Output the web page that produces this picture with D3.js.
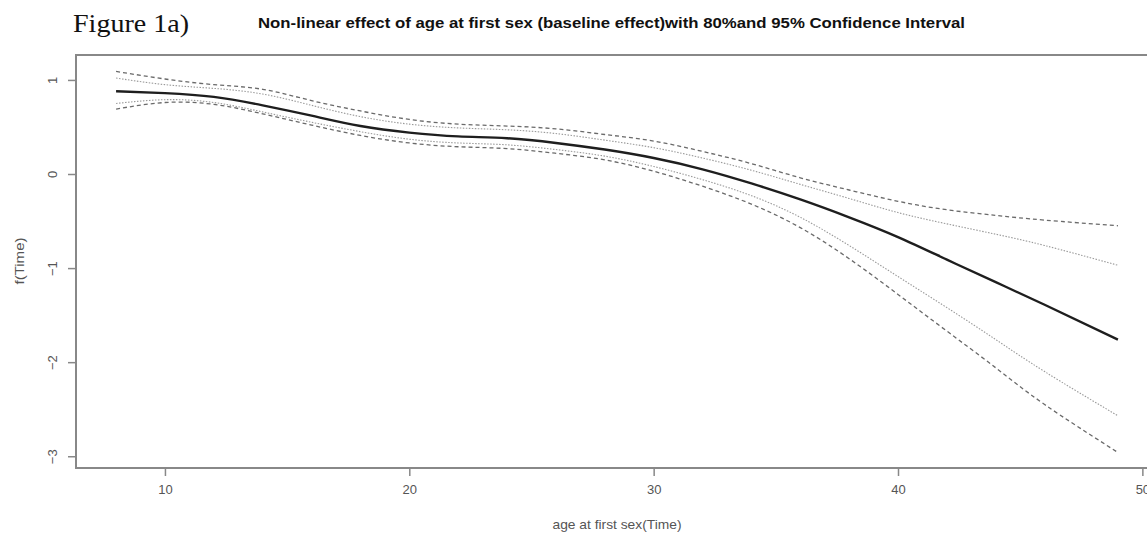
<!DOCTYPE html>
<html>
<head>
<meta charset="utf-8">
<script src="https://cdn.jsdelivr.net/npm/d3@7"></script>
<style>
  body { margin: 0; background: #fff; }
  svg text { font-family: 'Liberation Sans', Arial, sans-serif; }
</style>
</head>
<body>
<svg id="chart" width="1147" height="535"></svg>
<script>
// age at first sex
var ages = [ 8, 10, 12, 14, 16, 18, 20, 22, 24, 26, 28, 30, 32, 34, 36, 38, 40, 42, 44, 46, 49 ];

var estimate = [ 0.88, 0.86, 0.82, 0.73, 0.62, 0.51, 0.44, 0.40, 0.38, 0.33, 0.26, 0.17, 0.05, -0.10, -0.27, -0.46, -0.67, -0.91, -1.15, -1.39, -1.76 ];
var upper95 = [ 1.09, 1.01, 0.95, 0.90, 0.78, 0.67, 0.58, 0.53, 0.51, 0.48, 0.42, 0.35, 0.24, 0.11, -0.04, -0.17, -0.29, -0.38, -0.44, -0.49, -0.55 ];
var upper80 = [ 1.02, 0.95, 0.91, 0.85, 0.73, 0.61, 0.53, 0.49, 0.47, 0.43, 0.36, 0.28, 0.17, 0.04, -0.11, -0.26, -0.41, -0.53, -0.64, -0.76, -0.97 ];
var lower80 = [ 0.75, 0.79, 0.76, 0.66, 0.55, 0.45, 0.37, 0.33, 0.31, 0.26, 0.19, 0.08, -0.06, -0.23, -0.46, -0.76, -1.09, -1.42, -1.76, -2.10, -2.57 ];
var lower95 = [ 0.69, 0.76, 0.74, 0.64, 0.52, 0.41, 0.33, 0.29, 0.27, 0.22, 0.15, 0.03, -0.13, -0.32, -0.57, -0.90, -1.28, -1.67, -2.06, -2.45, -2.96 ];

var xTicks = [ 10, 20, 30, 40, 50 ];
var yTicks = [ -3, -2, -1, 0, 1 ];

var svg = d3.select( '#chart' ),
  box = { left: 76, top: 55, right: 1158, bottom: 468 };

var x = d3.scaleLinear()
  .domain( [ 6.36, 50.64 ] )
  .range( [ box.left, box.right ] );

var y = d3.scaleLinear()
  .domain( [ -3.125, 1.265 ] )
  .range( [ box.bottom, box.top ] );

var line = d3.line()
  .curve( d3.curveNatural )
  .x( d => x( d[ 0 ] ) )
  .y( d => y( d[ 1 ] ) );

var series = [
  { values: upper95, stroke: '#6a6a6a', width: 1.3, dash: '4,3' },
  { values: lower95, stroke: '#6a6a6a', width: 1.3, dash: '4,3' },
  { values: upper80, stroke: '#9a9a9a', width: 1.1, dash: '1.5,1.5' },
  { values: lower80, stroke: '#9a9a9a', width: 1.1, dash: '1.5,1.5' },
  { values: estimate, stroke: '#1e1e1e', width: 2.4, dash: null }
];

svg.selectAll( '.curve' )
  .data( series )
  .enter().append( 'path' )
    .attr( 'class', 'curve' )
    .attr( 'fill', 'none' )
    .attr( 'stroke', d => d.stroke )
    .attr( 'stroke-width', d => d.width )
    .attr( 'stroke-dasharray', d => d.dash )
    .attr( 'd', d => line( ages.map( ( a, i ) => [ a, d.values[ i ] ] ) ) );

/* Box */

svg.append( 'rect' )
  .attr( 'x', box.left )
  .attr( 'y', box.top )
  .attr( 'width', box.right - box.left )
  .attr( 'height', box.bottom - box.top )
  .attr( 'fill', 'none' )
  .attr( 'stroke', '#888' )
  .attr( 'stroke-width', 2 );

/* Axes */

var xAxis = svg.append( 'g' )
  .attr( 'transform', 'translate(0,' + box.bottom + ')' )
  .call( d3.axisBottom( x ).tickValues( xTicks ).tickSize( 8 ).tickPadding( 9 ) );

var yAxis = svg.append( 'g' )
  .attr( 'transform', 'translate(' + box.left + ',0)' )
  .call( d3.axisLeft( y ).tickValues( yTicks ).tickSize( 8 ).tickFormat( d3.format( 'd' ) ) );

[ xAxis, yAxis ].forEach( g => {
  g.select( '.domain' ).remove();
  g.selectAll( '.tick line' ).attr( 'stroke', '#888' ).attr( 'stroke-width', 1.5 );
  g.selectAll( '.tick text' ).attr( 'fill', '#555' ).style( 'font-size', '13px' );
} );

yAxis.selectAll( '.tick text' )
  .attr( 'transform', 'rotate(-90)' )
  .attr( 'x', 0 )
  .attr( 'y', -24 )
  .attr( 'dy', '0.35em' )
  .attr( 'text-anchor', 'middle' );

/* Labels */

svg.append( 'text' )
  .attr( 'x', 617 )
  .attr( 'y', 529 )
  .attr( 'text-anchor', 'middle' )
  .attr( 'fill', '#555' )
  .style( 'font-size', '13px' )
  .attr( 'textLength', 129 )
  .attr( 'lengthAdjust', 'spacingAndGlyphs' )
  .text( 'age at first sex(Time)' );

svg.append( 'text' )
  .attr( 'transform', 'translate(24,261) rotate(-90)' )
  .attr( 'text-anchor', 'middle' )
  .attr( 'fill', '#555' )
  .style( 'font-size', '13px' )
  .attr( 'textLength', 47 )
  .attr( 'lengthAdjust', 'spacingAndGlyphs' )
  .text( 'f(Time)' );

svg.append( 'text' )
  .attr( 'x', 73 )
  .attr( 'y', 32 )
  .style( 'font-family', "'Liberation Serif', 'Times New Roman', serif" )
  .style( 'font-size', '26px' )
  .attr( 'fill', '#111' )
  .attr( 'textLength', 116 )
  .attr( 'lengthAdjust', 'spacingAndGlyphs' )
  .text( 'Figure 1a)' );

svg.append( 'text' )
  .attr( 'x', 258 )
  .attr( 'y', 28 )
  .attr( 'fill', '#111' )
  .style( 'font-size', '15.5px' )
  .style( 'font-weight', 'bold' )
  .attr( 'textLength', 707 )
  .attr( 'lengthAdjust', 'spacingAndGlyphs' )
  .text( 'Non-linear effect of age at first sex (baseline effect)with 80%and 95% Confidence Interval' );
</script>
</body>
</html>
